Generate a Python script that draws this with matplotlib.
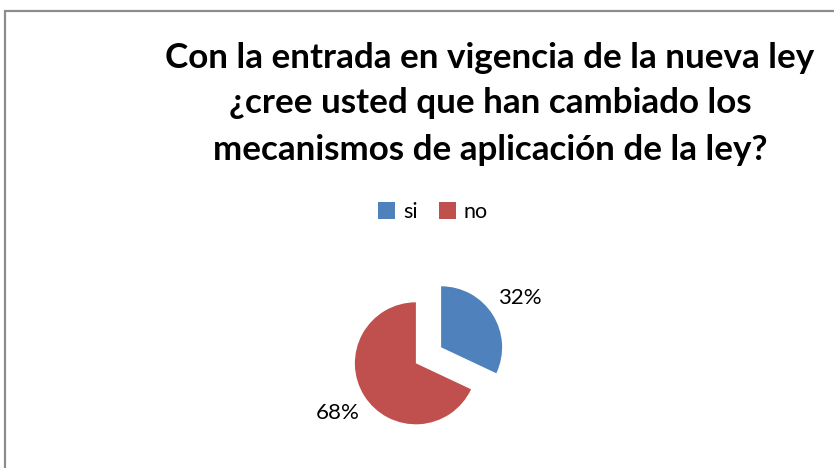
import matplotlib
matplotlib.use("Agg")
import matplotlib.pyplot as plt
from matplotlib.patches import Rectangle, Patch

title_lines = ["Con la entrada en vigencia de la nueva ley",
               "¿cree usted que han cambiado los",
               "mecanismos de aplicación de la ley?"]
categories = ["si", "no"]
values = [32, 68]
colors = ["#4F81BD", "#C0504D"]

W, H = 834, 468
R = 61
fig = plt.figure(figsize=(W / 100, H / 100), dpi=100)
ax = fig.add_axes([0, 0, 1, 1])

# chart border
ax.add_patch(Rectangle((5.5, -10), W + 20, H - 10.5 + 10, fill=False,
                       edgecolor="#8c8c8c", linewidth=1.6))

wedges, texts, autotexts = ax.pie(
    values, colors=colors, startangle=90, counterclock=False,
    explode=[0.245 * R, 0.245 * R], center=(428.5, H - 355.3), radius=R,
    autopct="%1.0f%%", pctdistance=1.52,
    textprops=dict(fontsize=16, family="Lato", color="#000000"),
    wedgeprops=dict(linewidth=0), frame=True)
ax.set_xlim(0, W)
ax.set_ylim(0, H)
ax.axis("off")

title_y = [H - 58, H - 103, H - 150]
for line, y in zip(title_lines, title_y):
    ax.text(490, y, line, ha="center", va="center", fontsize=25.2,
            fontweight="bold", family="Lato", color="#000000")

handles = [Patch(facecolor=c, edgecolor="none") for c in colors]
leg = ax.legend(handles, categories, loc="center", bbox_to_anchor=(433 / W, 1 - 212 / H),
                ncol=2, frameon=False, handlelength=0.8, handleheight=0.8,
                handletextpad=0.35, columnspacing=1.0, prop=dict(family="Lato", size=15.5))

fig.savefig("out.png", dpi=100)
